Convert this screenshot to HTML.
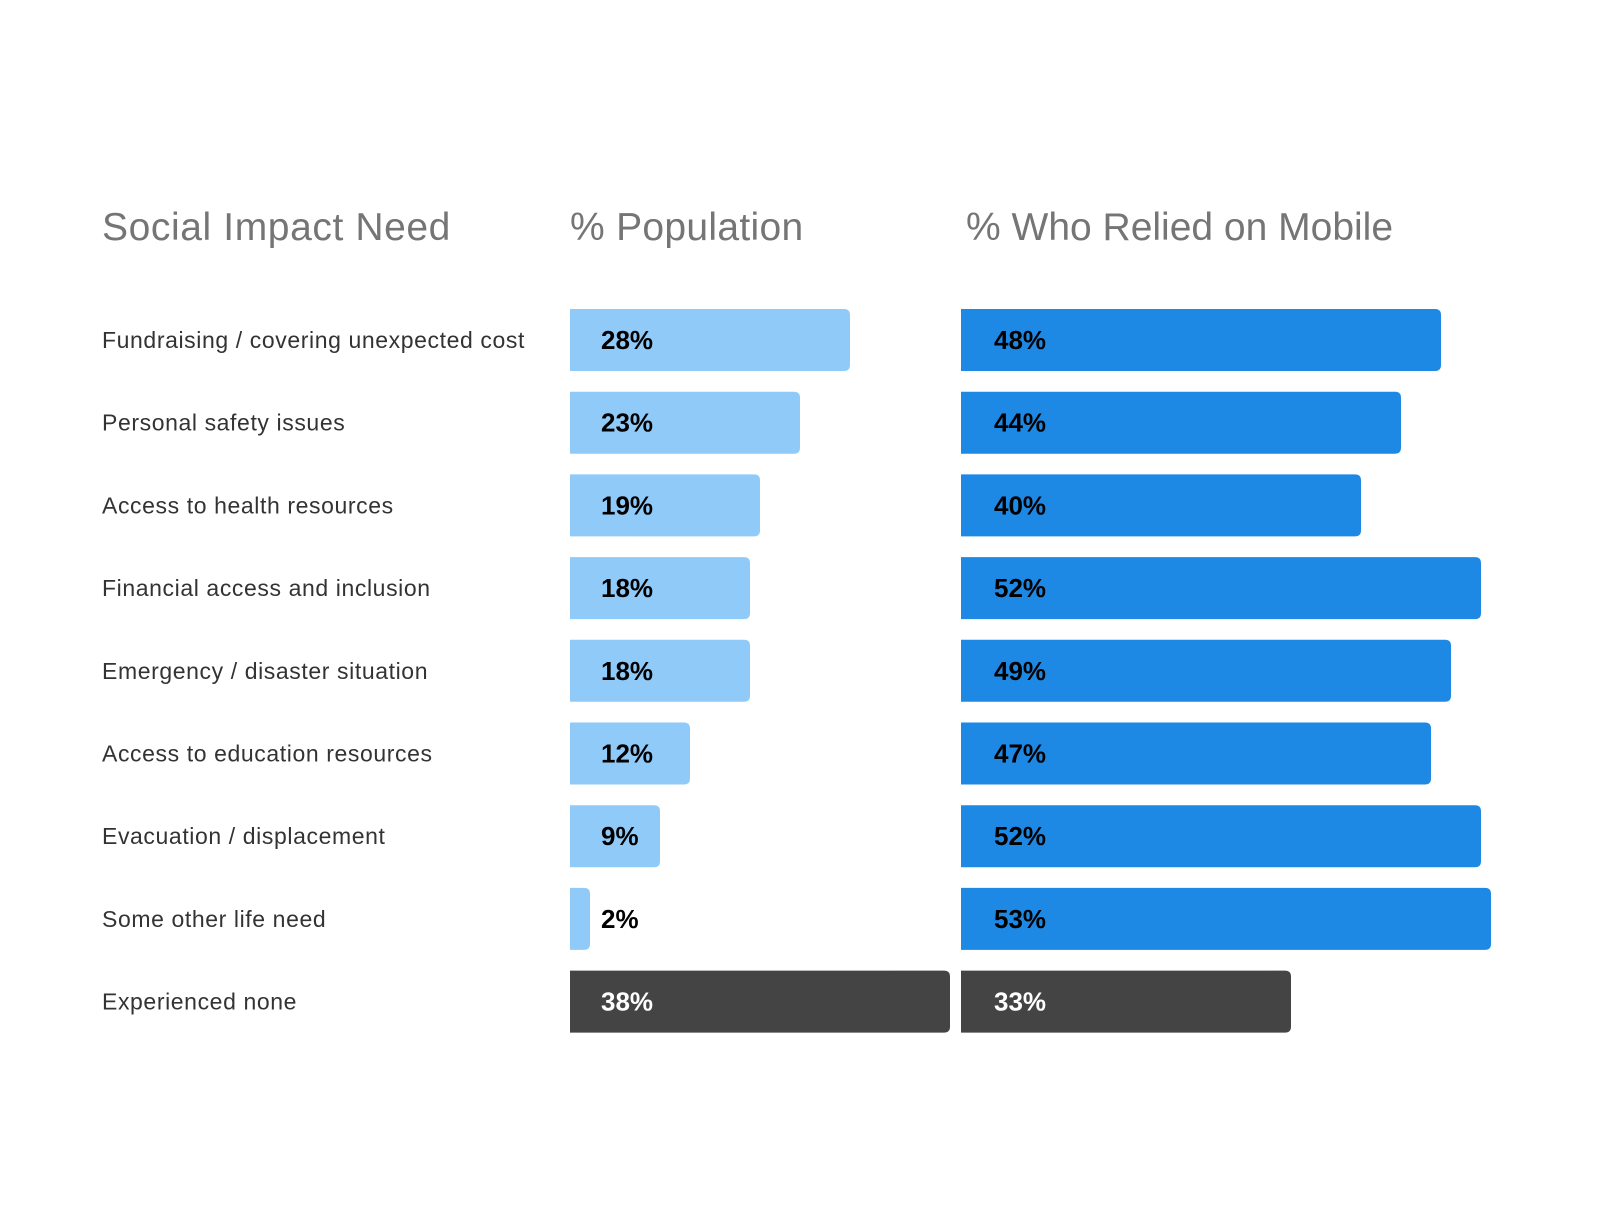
<!DOCTYPE html>
<html><head><meta charset="utf-8"><style>
body{margin:0;background:#fff;width:1600px;height:1200px;overflow:hidden;font-family:"Liberation Sans",sans-serif}
</style></head><body>
<svg width="1600" height="1200" id="c">
<text x="102" y="240" font-size="39" fill="#757575" letter-spacing="0.6">Social Impact Need</text>
<text x="570" y="240" font-size="39" fill="#757575" letter-spacing="0.3">% Population</text>
<text x="966" y="240" font-size="39" fill="#757575">% Who Relied on Mobile</text>
</svg>
<script>
const categories=["Fundraising / covering unexpected cost","Personal safety issues","Access to health resources","Financial access and inclusion","Emergency / disaster situation","Access to education resources","Evacuation / displacement","Some other life need","Experienced none"];
const population=[28,23,19,18,18,12,9,2,38];
const mobile=[48,44,40,52,49,47,52,53,33];
const svg=document.getElementById('c');
const NS='http://www.w3.org/2000/svg';
const top0=309,pitch=82.7,bh=62;
const xPop=v=>v*10,xMob=v=>v*10;
function bar(x,w,y,fill,label,lx,tc,name){
  const p=document.createElementNS(NS,'path');
  const r=6;
  p.setAttribute('d',`M${x},${y}H${x+w-r}Q${x+w},${y} ${x+w},${y+r}V${y+bh-r}Q${x+w},${y+bh} ${x+w-r},${y+bh}H${x}Z`);
  p.setAttribute('fill',fill);
  
  
  svg.appendChild(p);
  const t=document.createElementNS(NS,'text');
  t.setAttribute('x',lx);t.setAttribute('y',y+bh/2+9);
  t.setAttribute('font-size','26');t.setAttribute('font-weight','bold');t.setAttribute('fill',tc);
  t.textContent=label;
  
  
  svg.appendChild(t);
}
categories.forEach((c,i)=>{
  const y=top0+i*pitch;
  const last=i===categories.length-1;
  const t=document.createElementNS(NS,'text');
  t.setAttribute('x',102);t.setAttribute('y',y+bh/2+8);
  t.setAttribute('font-size','23');t.setAttribute('fill','#333');
  t.setAttribute('letter-spacing','0.6');
  t.textContent=c;
  
  
  svg.appendChild(t);
  bar(570,xPop(population[i]),y,last?'#444':'#90caf9',population[i]+'%',601,last?'#fff':'#000','population-bar');
  bar(961,xMob(mobile[i]),y,last?'#444':'#1e88e5',mobile[i]+'%',994,last?'#fff':'#000','mobile-bar');
});
</script>
</body></html>
